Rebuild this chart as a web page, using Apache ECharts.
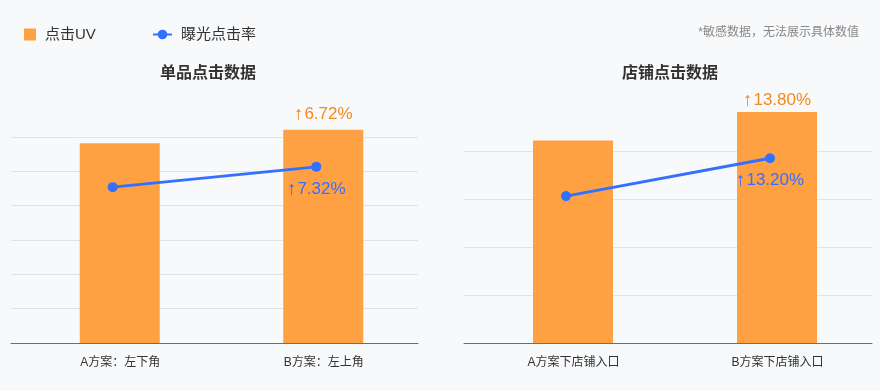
<!DOCTYPE html>
<html>
<head>
<meta charset="utf-8">
<script src="https://cdn.jsdelivr.net/npm/echarts@6/dist/echarts.min.js"></script>
<style>
html,body{margin:0;padding:0;background:#F8F9FB;}
#chart{width:880px;height:391px;}
</style>
</head>
<body>
<div id="chart"></div>
<script>
// ---- data ----
const seriesNames = ['点击UV', '曝光点击率'];
const titles = ['单品点击数据', '店铺点击数据'];
const note = '*敏感数据，无法展示具体数值';

const categoriesLeft = ['A方案：左下角', 'B方案：左上角'];
const clickUVLeft = [5.82, 6.21];
const ctrLeft = [4.54, 5.13];
const clickUVChangeLeft = ['', '↑6.72%'];
const ctrChangeLeft = ['', '↑7.32%'];

const categoriesRight = ['A方案下店铺入口', 'B方案下店铺入口'];
const clickUVRight = [4.22, 4.81];
const ctrRight = [3.06, 3.85];
const clickUVChangeRight = ['', '↑13.80%'];
const ctrChangeRight = ['', '↑13.20%'];

// ---- styles ----
const ORANGE = '#FFA142';
const ORANGE_TXT = '#F28A1E';
const BLUE = '#3370FF';
const FONT = '"Liberation Sans", "Noto Sans CJK SC", sans-serif';

const chart = echarts.init(document.getElementById('chart'));

function xAxis(gridIndex, cats) {
  return {
    type: 'category', gridIndex, data: cats,
    axisTick: { show: false },
    axisLine: { lineStyle: { color: '#6E6E6E', width: 1 } },
    axisLabel: { color: '#333', fontSize: 12, margin: 14, padding: [0, 0, 0, 15], fontFamily: FONT }
  };
}
function yAxis(gridIndex, max) {
  return {
    type: 'value', gridIndex, min: 0, max: max, interval: 1,
    axisLabel: { show: false }, axisTick: { show: false }, axisLine: { show: false },
    splitLine: { lineStyle: { color: '#E2E3E6', width: 1 } }
  };
}
function richText(t) {
  return t.charAt(0) === '↑' ? '{a|↑}{t|' + t.slice(1) + '}' : t;
}
function labelled(values, texts, color, pos, dist) {
  return values.map((v, i) => ({
    value: v,
    label: {
      show: texts[i] !== '', formatter: richText(texts[i]), position: pos, distance: dist,
      color: color, fontSize: 17, fontFamily: FONT,
      rich: {
        a: { color: color, fontSize: 19, fontWeight: 'bold', fontFamily: FONT, padding: [0, 1, 0, 0] },
        t: { color: color, fontSize: 17, fontFamily: FONT }
      }
    }
  }));
}
function seriesFor(idx, uv, uvTxt, ctr, ctrTxt, uvDist) {
  return [
    // spacer series (no data) to place the bars slightly right of the band centre
    { type: 'bar', xAxisIndex: idx, yAxisIndex: idx, data: [], barWidth: 14, barGap: '0%' },
    {
      name: seriesNames[0], type: 'bar', xAxisIndex: idx, yAxisIndex: idx,
      barWidth: 80, barGap: '0%', clip: false,
      itemStyle: { color: ORANGE },
      data: labelled(uv, uvTxt, ORANGE_TXT, 'top', uvDist)
    },
    {
      name: seriesNames[1], type: 'line', xAxisIndex: idx, yAxisIndex: idx, clip: false,
      symbol: 'circle', symbolSize: 10, z: 5,
      lineStyle: { color: BLUE, width: 3 }, itemStyle: { color: BLUE },
      data: labelled(ctr, ctrTxt, BLUE, 'bottom', 8)
    }
  ];
}

const option = {
  backgroundColor: '#F8F9FB',
  animation: false,
  textStyle: { fontFamily: FONT },
  title: [
    { text: titles[0], left: 208, textAlign: 'center', top: 66, padding: 0,
      textStyle: { fontSize: 16, fontWeight: 'bold', color: '#333', fontFamily: FONT } },
    { text: titles[1], left: 670, textAlign: 'center', top: 66, padding: 0,
      textStyle: { fontSize: 16, fontWeight: 'bold', color: '#333', fontFamily: FONT } },
    { text: note, right: 21, top: 27, padding: 0,
      textStyle: { fontSize: 12, fontWeight: 'normal', color: '#888', fontFamily: FONT } }
  ],
  legend: [
    { data: [seriesNames[0]], left: 24, top: 27, padding: 0, itemWidth: 12, itemHeight: 12,
      icon: 'rect', textStyle: { fontSize: 15, color: '#333', padding: [0, 0, 0, 4], fontFamily: FONT } },
    { data: [seriesNames[1]], left: 152, top: 27, padding: 0, itemWidth: 19, itemHeight: 12,
      textStyle: { fontSize: 15, color: '#333', padding: [0, 0, 0, 4], fontFamily: FONT } }
  ],
  grid: [
    { left: 11, width: 407, top: 137, bottom: 48 },
    { left: 464, right: 8, top: 151, bottom: 48 }
  ],
  xAxis: [xAxis(0, categoriesLeft), xAxis(1, categoriesRight)],
  yAxis: [yAxis(0, 6), yAxis(1, 4)],
  series: [
    ...seriesFor(0, clickUVLeft, clickUVChangeLeft, ctrLeft, ctrChangeLeft, 6),
    ...seriesFor(1, clickUVRight, clickUVChangeRight, ctrRight, ctrChangeRight, 2)
  ]
};
chart.setOption(option);
</script>
</body>
</html>
